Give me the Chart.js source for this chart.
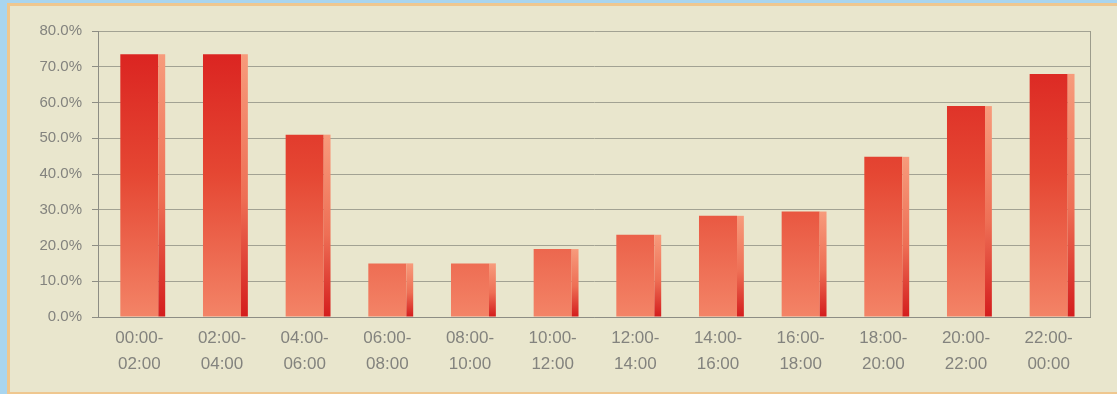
<!DOCTYPE html>
<html>
<head>
<meta charset="utf-8">
<script src="https://cdn.jsdelivr.net/npm/chart.js@4/dist/chart.umd.min.js"></script>
<style>
  html, body { margin: 0; padding: 0; }
  body { width: 1117px; height: 394px; background: #a9d5ef; position: relative; overflow: hidden; }
  #frame {
    position: absolute; left: 7px; top: 3px; right: 0; bottom: 0;
    background: #e9e6cd;
    border-left: 3px solid #efc78f; border-top: 3px solid #efc78f; border-bottom: 2px solid #efc78f;
    box-sizing: border-box;
  }
  #wrap { position: absolute; left: 0; top: 0; width: 1117px; height: 394px; }
</style>
</head>
<body>
<div id="frame"></div>
<div id="wrap"><canvas id="c" width="1117" height="394"></canvas></div>
<script>
// Time slots (two hours each) and share per slot, in percent
const categories = ['00:00-02:00', '02:00-04:00', '04:00-06:00', '06:00-08:00', '08:00-10:00', '10:00-12:00',
                    '12:00-14:00', '14:00-16:00', '16:00-18:00', '18:00-20:00', '20:00-22:00', '22:00-00:00'];
const shares = [73.5, 73.5, 51.0, 15.0, 15.0, 19.0, 23.0, 28.3, 29.5, 44.8, 59.0, 68.0];
const yTicks = [0, 10, 20, 30, 40, 50, 60, 70, 80];

const axisGrey = '#83837e';

// Draws the shaded right-hand side face of each bar for a 3D look
const sideFace = {
  id: 'sideFace',
  afterDatasetsDraw(chart) {
    const ctx = chart.ctx;
    chart.getDatasetMeta(0).data.forEach(bar => {
      const p = bar.getProps(['x', 'y', 'base', 'width'], true);
      const x0 = p.x + p.width / 2;
      const w = p.width * 0.18;
      const g = ctx.createLinearGradient(0, p.y, 0, p.base);
      g.addColorStop(0, '#f79b7c');
      g.addColorStop(0.55, '#ee6f55');
      g.addColorStop(1, '#d41d1d');
      ctx.save();
      ctx.fillStyle = g;
      ctx.fillRect(x0, p.y, w, p.base - p.y);
      ctx.restore();
    });
  }
};

// Right edge of the plot frame
const rightEdge = {
  id: 'rightEdge',
  beforeDatasetsDraw(chart) {
    const a = chart.chartArea, ctx = chart.ctx;
    ctx.save();
    ctx.strokeStyle = '#9c9c8c';
    ctx.lineWidth = 1;
    ctx.beginPath();
    ctx.moveTo(Math.round(a.right) + 0.5, a.top);
    ctx.lineTo(Math.round(a.right) + 0.5, a.bottom);
    ctx.stroke();
    ctx.restore();
  }
};

const ctx = document.getElementById('c').getContext('2d');
new Chart(ctx, {
  type: 'bar',
  data: {
    labels: categories.map(c => [c.slice(0, 6), c.slice(6)]),
    datasets: [{
      data: shares,
      backgroundColor(context) {
        const area = context.chart.chartArea;
        if (!area) return '#e03a2a';
        const el = context.element;
        const top = el && isFinite(el.y) ? el.y : area.top;
        const g = context.chart.ctx.createLinearGradient(0, top, 0, area.bottom);
        g.addColorStop(0, '#d91e1e');
        g.addColorStop(0.5, '#e54733');
        g.addColorStop(1, '#f38467');
        return g;
      },
      borderWidth: 0,
      barPercentage: 0.92,
      categoryPercentage: 0.5
    }]
  },
  options: {
    responsive: false,
    animation: false,
    events: [],
    layout: { padding: { left: 0, top: 31, right: 27, bottom: 0 } },
    plugins: { legend: { display: false }, tooltip: { enabled: false } },
    scales: {
      x: {
        grid: { display: false, drawTicks: false },
        border: { display: true, color: '#8d8d84', width: 1 },
        ticks: {
          color: axisGrey,
          padding: 9,
          maxRotation: 0,
          autoSkip: false,
          font: { family: 'Liberation Sans, Arial, sans-serif', size: 17, lineHeight: 1.5 }
        },
        afterFit(scale) { scale.height = 77; }
      },
      y: {
        min: 0,
        max: 80,
        afterBuildTicks(scale) { scale.ticks = yTicks.map(v => ({ value: v })); },
        grid: { color: '#a2a293', lineWidth: 1, tickLength: 6, drawTicks: true, tickColor: '#8d8d84' },
        border: { display: true, color: '#8d8d84', width: 1 },
        ticks: {
          color: axisGrey,
          padding: 10,
          font: { family: 'Liberation Sans, Arial, sans-serif', size: 15 },
          callback: v => v.toFixed(1) + '%'
        },
        afterFit(scale) { scale.width = 98; }
      }
    }
  },
  plugins: [sideFace, rightEdge]
});
</script>
</body>
</html>
